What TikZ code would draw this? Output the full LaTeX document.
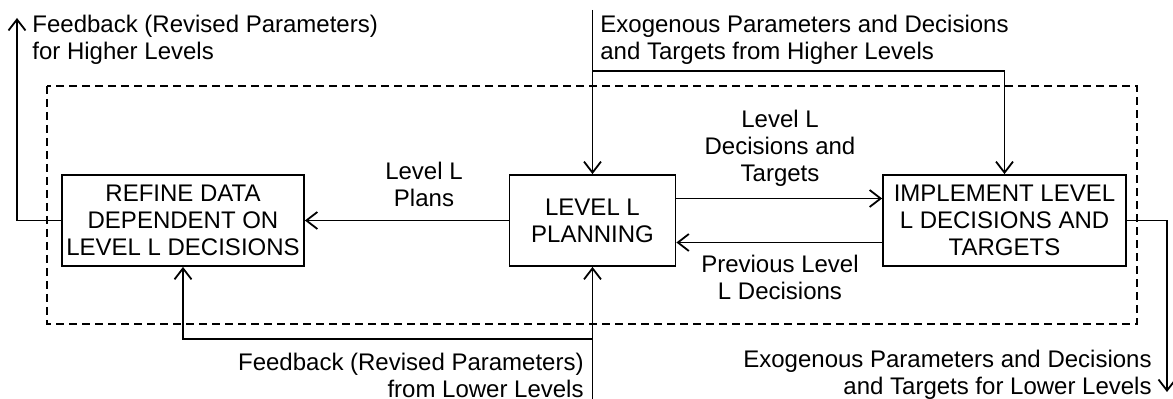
\documentclass[tikz,border=0pt]{standalone}
\usepackage{fontspec}
\setmainfont{Liberation Sans}
\usetikzlibrary{arrows.meta, calc}

\begin{document}
\begin{tikzpicture}[x=0.5pt, y=-0.5pt,
    txt/.style={font=\fontsize{12}{13.5}\selectfont, inner sep=0pt},
    blk/.style={txt, draw, line width=0.9pt, align=center, minimum height=45.5pt},
    flow/.style={line width=0.9pt, -{Straight Barb[length=5.5pt, width=8.5pt]}},
    zone/.style={line width=0.6pt, dash pattern=on 4pt off 2.5pt}
  ]

  %% Layout (pixel-like units, y grows downwards)
  \def\yMid{220.5}   % centre line of the three blocks
  \def\xFeed{17}     % feedback to higher levels
  \def\xDown{1167}   % outputs to lower levels
  \def\yExo{71}      % branch to implementation
  \def\yLow{339}     % branch to refine block

  \useasboundingbox (0,0) rectangle (1173,399);

  %% Level L boundary
  \draw[zone] (47,86) rectangle (1137,324);

  %% Blocks
  \node[blk, minimum width=121pt] (refine) at (183,\yMid)
    {REFINE DATA\\DEPENDENT ON\\LEVEL L DECISIONS};
  \node[blk, minimum width=83pt] (plan) at (592.5,\yMid)
    {LEVEL L\\PLANNING};
  \node[blk, minimum width=121.5pt] (impl) at (1004.5,\yMid)
    {IMPLEMENT LEVEL\\L DECISIONS AND\\TARGETS};

  %% Free ends
  \coordinate (fbHigh)  at (\xFeed,18);
  \coordinate (exoIn)   at (plan.north |- 0,10);
  \coordinate (exoJoin) at (plan.north |- 0,\yExo);
  \coordinate (fbIn)    at (plan.south |- 0,399);
  \coordinate (fbJoin)  at (plan.south |- 0,\yLow);
  \coordinate (exoOut)  at (\xDown,392);

  %% Connectors
  \draw[flow] (exoIn) -- (plan.north);
  \draw[flow] (exoJoin) -| (impl.north);
  \draw[flow] (fbIn) -- (plan.south);
  \draw[flow] (fbJoin) -| (refine.south);
  \draw[flow] (plan.west) -- (refine.east);
  \draw[flow] ([yshift=11pt]plan.east) -- ([yshift=11pt]impl.west);
  \draw[flow] ([yshift=-11pt]impl.west) -- ([yshift=-11pt]plan.east);
  \draw[flow] (refine.west) -| (fbHigh);
  \draw[flow] (impl.east) -| (exoOut);

  %% Labels
  \node[txt, align=left, anchor=west] (fbHighLbl) at (32,40)
    {Feedback (Revised Parameters)\\for Higher Levels};
  \node[txt, align=left, anchor=west] (exoInLbl) at (600,40)
    {Exogenous Parameters and Decisions\\and Targets from Higher Levels};
  \node[txt, align=center] (plansLbl) at (424,184) {Level L\\Plans};
  \node[txt, align=center] (decLbl) at (780,148) {Level L\\Decisions and\\Targets};
  \node[txt, align=center] (prevLbl) at (780,277) {Previous Level\\L Decisions};
  \node[txt, align=right, anchor=east] (fbInLbl) at (584,375)
    {Feedback (Revised Parameters)\\from Lower Levels};
  \node[txt, align=right, anchor=east] (exoOutLbl) at (1152,375)
    {Exogenous Parameters and Decisions\\and Targets for Lower Levels};

\end{tikzpicture}
\end{document}
